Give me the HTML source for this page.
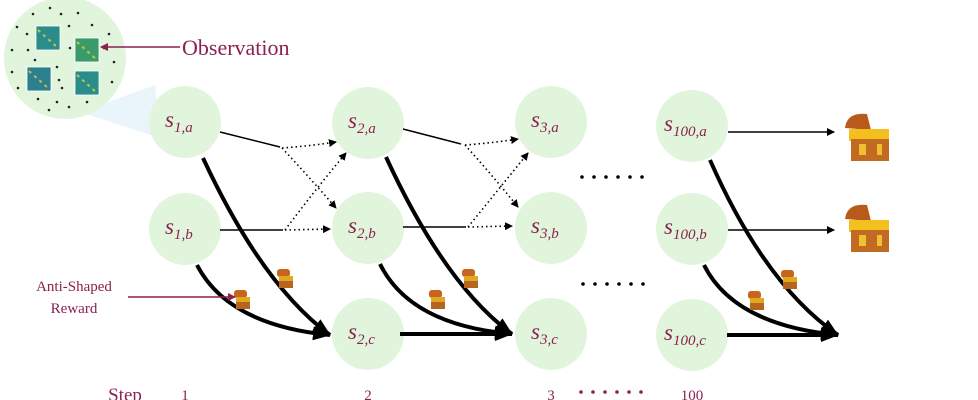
<!DOCTYPE html>
<html><head><meta charset="utf-8"><style>
html,body{margin:0;padding:0;background:#fff;width:978px;height:400px;overflow:hidden}
svg{display:block}
.st{font-family:"Liberation Serif",serif;font-style:italic;fill:#8a2150;font-size:23px}
.sub{font-size:15px}
.lbl{font-family:"Liberation Serif",serif;fill:#8a2150}
</style></head><body>
<svg width="978" height="400" viewBox="0 0 978 400" xmlns="http://www.w3.org/2000/svg">
<defs>
<marker id="ah" markerWidth="8" markerHeight="8" refX="7" refY="4" orient="auto" markerUnits="userSpaceOnUse"><path d="M0,0 L8,4 L0,8 z" fill="#000"/></marker>
<marker id="ahb" markerWidth="18" markerHeight="14" refX="17" refY="7" orient="auto" markerUnits="userSpaceOnUse"><path d="M0,0 L18,7 L0,14 z" fill="#000"/></marker>
<marker id="ahp" markerWidth="8" markerHeight="8" refX="7" refY="4" orient="auto" markerUnits="userSpaceOnUse"><path d="M0,0 L8,4 L0,8 z" fill="#8a2150"/></marker>
<g id="chs"><rect x="0" y="0" width="13" height="8" rx="3" fill="#c8641e"/><rect x="2" y="7" width="14" height="6" fill="#e0a820"/><rect x="2" y="12" width="14" height="7" fill="#b5651d"/></g>
<g id="chb"><path d="M2,16 Q4,0 24,2 L28,18 Z" fill="#b85a1a"/><rect x="6" y="17" width="40" height="12" fill="#f4c020"/><rect x="8" y="27" width="38" height="22" fill="#c06a22"/><rect x="16" y="32" width="7" height="11" fill="#f0c030"/><rect x="34" y="32" width="5" height="11" fill="#f0c030"/></g>
</defs>
<polygon points="100,105 155,85 160,138 80,112" fill="#eaf4fb"/>
<circle cx="65" cy="58" r="61" fill="#e1f5dc"/>
<g fill="#222">
<circle cx="50" cy="8" r="1.3"/><circle cx="61" cy="14" r="1.3"/><circle cx="78" cy="13" r="1.3"/><circle cx="33" cy="14" r="1.3"/><circle cx="17" cy="27" r="1.3"/><circle cx="69" cy="26" r="1.3"/><circle cx="92" cy="25" r="1.3"/><circle cx="109" cy="34" r="1.3"/><circle cx="27" cy="34" r="1.3"/><circle cx="12" cy="50" r="1.3"/><circle cx="28" cy="50" r="1.3"/><circle cx="70" cy="48" r="1.3"/><circle cx="12" cy="72" r="1.3"/><circle cx="57" cy="67" r="1.3"/><circle cx="114" cy="62" r="1.3"/><circle cx="59" cy="80" r="1.3"/><circle cx="112" cy="82" r="1.3"/><circle cx="18" cy="88" r="1.3"/><circle cx="62" cy="88" r="1.3"/><circle cx="38" cy="99" r="1.3"/><circle cx="57" cy="102" r="1.3"/><circle cx="87" cy="102" r="1.3"/><circle cx="49" cy="110" r="1.3"/><circle cx="69" cy="107" r="1.3"/><circle cx="35" cy="60" r="1.3"/><circle cx="104" cy="48" r="1.3"/>
</g>
<g stroke="#fff" stroke-width="0.8">
<rect x="36" y="26" width="24" height="24" fill="#2a8d8a"/><rect x="75" y="38" width="24" height="24" fill="#3a9a6a"/><rect x="27" y="67" width="24" height="24" fill="#2c7f8e"/><rect x="75" y="71" width="24" height="24" fill="#2a8d8a"/>
</g>
<g stroke="#e6d43a" stroke-width="2" stroke-dasharray="3 4" opacity="0.8">
<line x1="38" y1="30" x2="58" y2="48"/><line x1="77" y1="42" x2="97" y2="60"/><line x1="29" y1="71" x2="49" y2="89"/><line x1="77" y1="75" x2="97" y2="93"/>
</g>
<line x1="180" y1="47" x2="101" y2="47" stroke="#8a2150" stroke-width="1.5" marker-end="url(#ahp)"/>
<text x="182" y="55" class="lbl" font-size="22">Observation</text>
<g fill="#e1f5dc">
<circle cx="185" cy="122" r="36"/><circle cx="185" cy="229" r="36"/>
<circle cx="368" cy="123" r="36"/><circle cx="368" cy="228" r="36"/><circle cx="368" cy="334" r="36"/>
<circle cx="551" cy="122" r="36"/><circle cx="551" cy="228" r="36"/><circle cx="551" cy="334" r="36"/>
<circle cx="692" cy="126" r="36"/><circle cx="692" cy="229" r="36"/><circle cx="692" cy="335" r="36"/>
</g>
<g class="st">
<text x="165" y="127">s<tspan class="sub" dy="5">1,a</tspan></text>
<text x="165" y="234">s<tspan class="sub" dy="5">1,b</tspan></text>
<text x="348" y="128">s<tspan class="sub" dy="5">2,a</tspan></text>
<text x="348" y="233">s<tspan class="sub" dy="5">2,b</tspan></text>
<text x="348" y="339">s<tspan class="sub" dy="5">2,c</tspan></text>
<text x="531" y="127">s<tspan class="sub" dy="5">3,a</tspan></text>
<text x="531" y="233">s<tspan class="sub" dy="5">3,b</tspan></text>
<text x="531" y="339">s<tspan class="sub" dy="5">3,c</tspan></text>
<text x="664" y="131">s<tspan class="sub" dy="5">100,a</tspan></text>
<text x="664" y="234">s<tspan class="sub" dy="5">100,b</tspan></text>
<text x="664" y="340">s<tspan class="sub" dy="5">100,c</tspan></text>
</g>
<g fill="none" stroke="#000">
<g stroke-width="1.5">
<line x1="220" y1="132" x2="280" y2="147"/><line x1="220" y1="230" x2="283" y2="230"/>
<line x1="403" y1="129" x2="461" y2="144"/><line x1="403" y1="227" x2="466" y2="227"/>
</g>
<g stroke-width="1.6" stroke-dasharray="1.5 3">
<path d="M282,148 Q310,146 336,142" marker-end="url(#ah)"/>
<path d="M282,148 Q310,178 336,208" marker-end="url(#ah)"/>
<path d="M285,230 L330,229" marker-end="url(#ah)"/>
<path d="M285,230 Q315,190 346,153" marker-end="url(#ah)"/>
<path d="M465,145 Q492,143 518,139" marker-end="url(#ah)"/>
<path d="M465,145 Q492,175 518,207" marker-end="url(#ah)"/>
<path d="M468,227 L512,226" marker-end="url(#ah)"/>
<path d="M468,227 Q498,190 528,153" marker-end="url(#ah)"/>
</g>
<g stroke-width="4">
<path d="M203,158 Q262,285 330,335" marker-end="url(#ahb)"/>
<path d="M197,265 Q228,325 330,335" marker-end="url(#ahb)"/>
<path d="M386,157 Q445,285 512,334" marker-end="url(#ahb)"/>
<path d="M380,264 Q410,325 512,334" marker-end="url(#ahb)"/>
<path d="M400,334 L512,334" marker-end="url(#ahb)"/>
<path d="M710,160 Q765,285 838,335" marker-end="url(#ahb)"/>
<path d="M704,265 Q734,325 838,335" marker-end="url(#ahb)"/>
<path d="M727,335 L838,335" marker-end="url(#ahb)"/>
</g>
<g stroke-width="1.5">
<line x1="728" y1="132" x2="834" y2="132" marker-end="url(#ah)"/>
<line x1="728" y1="230" x2="834" y2="230" marker-end="url(#ah)"/>
</g>
</g>
<use href="#chs" x="277" y="269"/><use href="#chs" x="234" y="290"/>
<use href="#chs" x="462" y="269"/><use href="#chs" x="429" y="290"/>
<use href="#chs" x="781" y="270"/><use href="#chs" x="748" y="291"/>
<use href="#chb" x="843" y="112"/><use href="#chb" x="843" y="203"/>
<g fill="#000">
<circle cx="582" cy="177" r="1.8"/><circle cx="594" cy="177" r="1.8"/><circle cx="606" cy="177" r="1.8"/><circle cx="618" cy="177" r="1.8"/><circle cx="630" cy="177" r="1.8"/><circle cx="642" cy="177" r="1.8"/>
<circle cx="583" cy="284" r="1.8"/><circle cx="595" cy="284" r="1.8"/><circle cx="607" cy="284" r="1.8"/><circle cx="619" cy="284" r="1.8"/><circle cx="631" cy="284" r="1.8"/><circle cx="643" cy="284" r="1.8"/>
</g>
<g fill="#8a2150">
<circle cx="581" cy="392" r="1.8"/><circle cx="593" cy="392" r="1.8"/><circle cx="605" cy="392" r="1.8"/><circle cx="617" cy="392" r="1.8"/><circle cx="629" cy="392" r="1.8"/><circle cx="641" cy="392" r="1.8"/>
</g>
<line x1="128" y1="297" x2="235" y2="297" stroke="#8a2150" stroke-width="1.5" marker-end="url(#ahp)"/>
<text x="74" y="291" class="lbl" font-size="15" text-anchor="middle">Anti-Shaped</text>
<text x="74" y="313" class="lbl" font-size="15" text-anchor="middle">Reward</text>
<g class="lbl" font-size="15" text-anchor="middle">
<text x="125" y="401" font-size="19">Step</text>
<text x="185" y="400">1</text><text x="368" y="400">2</text><text x="551" y="400">3</text><text x="692" y="400">100</text>
</g>
</svg>
</body></html>
